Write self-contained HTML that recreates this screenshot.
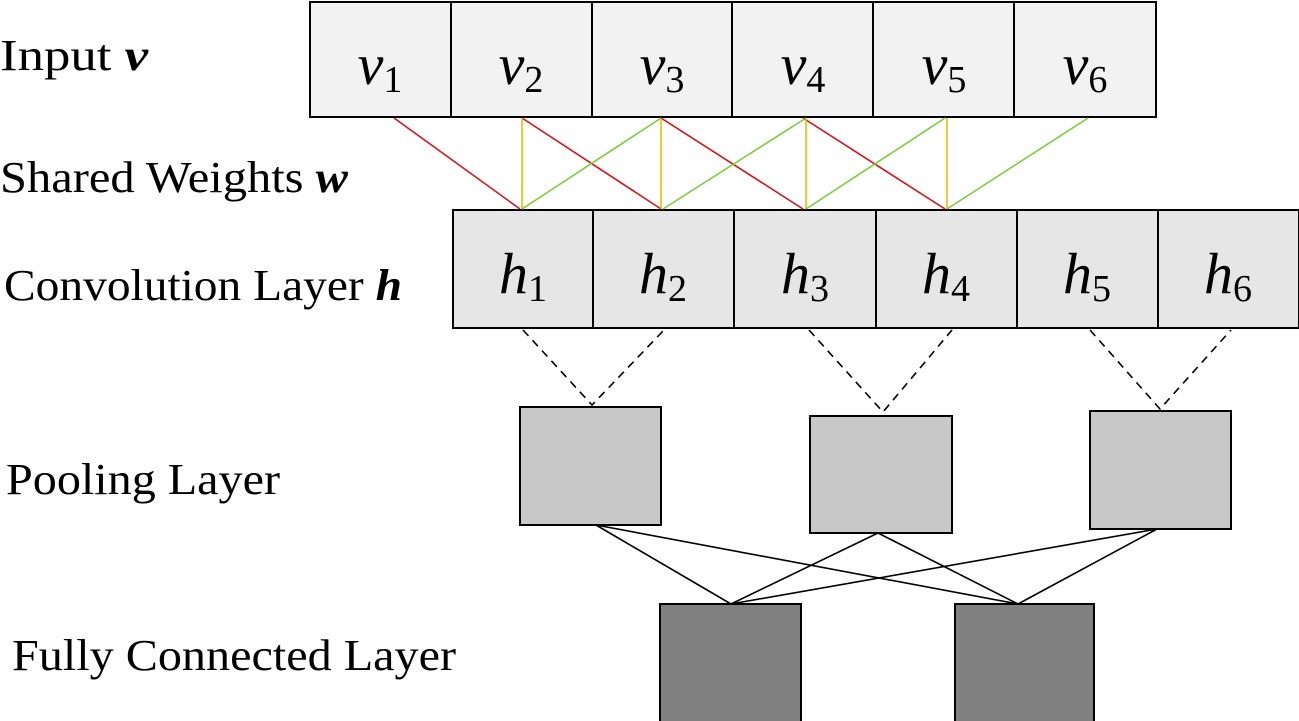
<!DOCTYPE html>
<html><head><meta charset="utf-8"><style>html,body{margin:0;padding:0;background:#fff}svg{display:block}</style></head>
<body>
<svg width="1299" height="721" viewBox="0 0 1299 721" xmlns="http://www.w3.org/2000/svg" font-family="Liberation Serif, serif">
<g font-size="44" fill="#000">
<text x="0" y="70" textLength="148" lengthAdjust="spacingAndGlyphs">Input <tspan font-weight="bold" font-style="italic">v</tspan></text>
<text x="0" y="192" textLength="348" lengthAdjust="spacingAndGlyphs">Shared Weights <tspan font-weight="bold" font-style="italic">w</tspan></text>
<text x="4" y="300" textLength="398" lengthAdjust="spacingAndGlyphs">Convolution Layer <tspan font-weight="bold" font-style="italic">h</tspan></text>
<text x="6" y="494" textLength="274" lengthAdjust="spacingAndGlyphs">Pooling Layer</text>
<text x="12" y="670" textLength="444" lengthAdjust="spacingAndGlyphs">Fully Connected Layer</text>
</g>
<g stroke="#000" stroke-width="2" fill="#f2f2f2">
<rect x="310" y="2" width="141" height="115"/><rect x="451" y="2" width="141" height="115"/><rect x="592" y="2" width="140" height="115"/><rect x="732" y="2" width="141" height="115"/><rect x="873" y="2" width="141" height="115"/><rect x="1014" y="2" width="142" height="115"/>
</g>
<g stroke="#000" stroke-width="2" fill="#e6e6e6">
<rect x="453" y="210" width="140" height="118"/><rect x="593" y="210" width="141" height="118"/><rect x="734" y="210" width="142" height="118"/><rect x="876" y="210" width="141" height="118"/><rect x="1017" y="210" width="141" height="118"/><rect x="1158" y="210" width="141" height="118"/>
</g>
<g font-size="58" font-style="italic" text-anchor="middle">
<text x="380" y="84">v<tspan font-size="38" font-style="normal" dy="8">1</tspan></text>
<text x="521" y="84">v<tspan font-size="38" font-style="normal" dy="8">2</tspan></text>
<text x="662" y="84">v<tspan font-size="38" font-style="normal" dy="8">3</tspan></text>
<text x="803" y="84">v<tspan font-size="38" font-style="normal" dy="8">4</tspan></text>
<text x="944" y="84">v<tspan font-size="38" font-style="normal" dy="8">5</tspan></text>
<text x="1085" y="84">v<tspan font-size="38" font-style="normal" dy="8">6</tspan></text>
<text x="523" y="293">h<tspan font-size="38" font-style="normal" dy="8">1</tspan></text>
<text x="663" y="293">h<tspan font-size="38" font-style="normal" dy="8">2</tspan></text>
<text x="805" y="293">h<tspan font-size="38" font-style="normal" dy="8">3</tspan></text>
<text x="946" y="293">h<tspan font-size="38" font-style="normal" dy="8">4</tspan></text>
<text x="1087" y="293">h<tspan font-size="38" font-style="normal" dy="8">5</tspan></text>
<text x="1228" y="293">h<tspan font-size="38" font-style="normal" dy="8">6</tspan></text>
</g>
<g stroke-width="1.6">
<g stroke="#d9141c">
<line x1="394" y1="118" x2="520" y2="209"/><line x1="522" y1="118" x2="661" y2="209"/><line x1="661" y1="118" x2="803" y2="209"/><line x1="803" y1="118" x2="945" y2="209"/>
</g>
<g stroke="#f5b800">
<line x1="522" y1="118" x2="522" y2="209"/><line x1="661" y1="118" x2="661" y2="209"/><line x1="806" y1="118" x2="806" y2="209"/><line x1="947" y1="118" x2="947" y2="209"/>
</g>
<g stroke="#7ccc3c">
<line x1="661" y1="118" x2="522" y2="209"/><line x1="806" y1="118" x2="663" y2="209"/><line x1="945" y1="118" x2="806" y2="209"/><line x1="1088" y1="118" x2="947" y2="209"/>
</g>
</g>
<g stroke="#000" stroke-width="1.6" stroke-dasharray="8,6" fill="none">
<polyline points="523,330 592,405 664,330"/>
<polyline points="809,330 883,412 952,330"/>
<polyline points="1090,330 1160,409 1231,330"/>
</g>
<g stroke="#000" stroke-width="2" fill="#c8c8c8">
<rect x="520" y="407" width="141" height="118"/>
<rect x="810" y="416" width="142" height="117"/>
<rect x="1090" y="411" width="141" height="118"/>
</g>
<g stroke="#000" stroke-width="1.6">
<line x1="596" y1="525" x2="731" y2="604"/><line x1="596" y1="525" x2="1018" y2="604"/>
<line x1="878" y1="533" x2="731" y2="604"/><line x1="878" y1="533" x2="1018" y2="604"/>
<line x1="1157" y1="529" x2="731" y2="604"/><line x1="1157" y1="529" x2="1018" y2="604"/>
</g>
<g stroke="#000" stroke-width="2" fill="#808080">
<rect x="660" y="604" width="141" height="120"/>
<rect x="955" y="604" width="139" height="120"/>
</g>
</svg>
</body></html>
